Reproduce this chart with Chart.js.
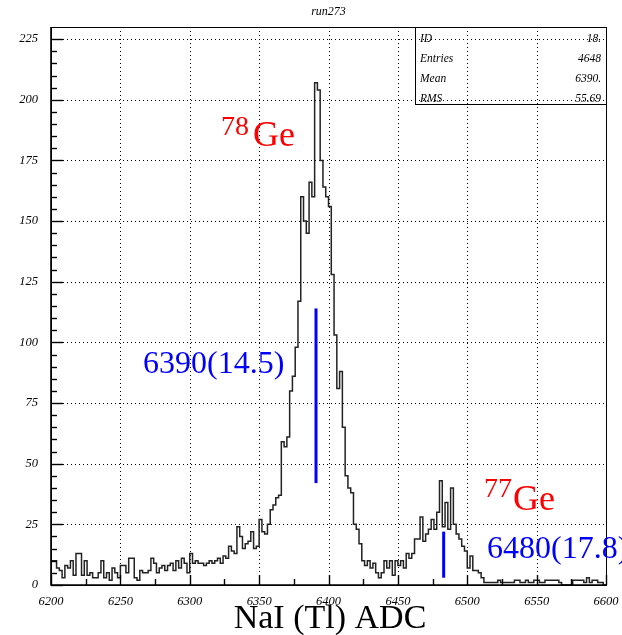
<!DOCTYPE html>
<html><head><meta charset="utf-8">
<script src="https://cdn.jsdelivr.net/npm/chart.js@4.4.0/dist/chart.umd.min.js"></script>
<style>html,body{margin:0;padding:0;background:#fff;overflow:hidden}#wrap{width:622px;height:635px;position:relative}</style>
</head><body><div id="wrap"><canvas id="c" width="622" height="635"></canvas></div>
<script>
// ---- data ----
const binStart = 6200;
const binWidth = 2;
const counts = [
  // 6200-6248
  10,10,7,6,3,8,7,10,4,13,13,4,10,4,5,3,3,5,10,3,5,2,7,5,3,
  // 6250-6298
  8,8,5,11,11,3,2,6,5,5,6,11,9,5,7,8,6,8,9,6,10,7,11,9,5,
  // 6300-6348
  13,9,10,9,9,8,9,10,9,10,11,9,12,11,16,14,13,24,20,15,17,18,22,15,16,
  // 6350-6398
  27,22,21,25,31,33,36,37,59,57,61,80,86,98,117,160,150,145,166,160,207,204,175,164,160,
  // 6400-6448
  156,128,103,81,88,65,45,40,38,25,23,17,10,8,10,7,9,5,3,5,10,7,10,4,10,
  // 6450-6498
  8,10,7,13,11,13,19,19,28,18,21,23,27,23,30,43,24,34,23,40,25,21,19,16,14,
  // 6500-6548
  7,12,6,6,5,3,1,1,1,1,1,2,1,1,1,1,1,2,2,1,1,2,1,1,2,
  // 6550-6598
  2,1,1,2,2,2,2,2,1,0,0,0,0,2,2,2,2,1,3,1,2,2,1,1,0
];
const xTicks = [6200,6250,6300,6350,6400,6450,6500,6550,6600];
const yTicks = [0,25,50,75,100,125,150,175,200,225];
const xRange = [6200, 6600];
const yRange = [0, 230];
const titleText = 'run273';
const xAxisTitle = 'NaI (Tl) ADC';
const statsLabels = ['ID','Entries','Mean','RMS'];
const statsValues = ['18.','4648','6390.','55.69'];
const peakIsotopeMass = ['78','77'];
const peakIsotopeElem = ['Ge','Ge'];
const peakFitText = ['6390(14.5)','6480(17.8)'];
const markerX = [6391, 6483];
const markerLow = [42, 3];
const markerHigh = [114, 22];

// ---- build ----
const histPoints = counts.map((c,i)=>({x: binStart + i*binWidth, y: c}));
histPoints.push({x: binStart + counts.length*binWidth, y: counts[counts.length-1]});

const serif = '"Liberation Serif","Times New Roman",serif';

const pawPlugin = {
  id: 'paw',
  beforeDatasetsDraw(chart){
    const {ctx, chartArea:a, scales:{x,y}} = chart;
    ctx.save();
    ctx.strokeStyle = '#000'; ctx.lineWidth = 1; ctx.setLineDash([1,3]);
    xTicks.forEach(v=>{
      if (v===xRange[0]||v===xRange[1]) return;
      const px = Math.round(x.getPixelForValue(v))+0.5;
      ctx.beginPath(); ctx.moveTo(px,a.top); ctx.lineTo(px,a.bottom); ctx.stroke();
    });
    yTicks.forEach(v=>{
      if (v===yRange[0]) return;
      const py = Math.round(y.getPixelForValue(v))+0.5;
      ctx.beginPath(); ctx.moveTo(a.left,py); ctx.lineTo(a.right,py); ctx.stroke();
    });
    ctx.restore();
  },
  afterDatasetsDraw(chart){
    const {ctx, chartArea:a, scales:{x,y}} = chart;
    ctx.save();
    ctx.setLineDash([]);
    ctx.strokeStyle = '#000';
    ctx.lineWidth = 1;
    ctx.strokeRect(Math.round(a.left)+0.5, Math.round(a.top)+0.5, Math.round(a.right-a.left), Math.round(a.bottom-a.top));
    ctx.lineWidth = 1.6;
    ctx.beginPath();
    ctx.moveTo(a.left, a.top); ctx.lineTo(a.left, a.bottom); ctx.lineTo(a.right, a.bottom);
    ctx.stroke();
    ctx.lineWidth = 1.4;
    for (let v = xRange[0]; v <= xRange[1]; v += 25) {
      const major = (v - xRange[0]) % 50 === 0;
      const px = Math.round(x.getPixelForValue(v))+0.5;
      ctx.beginPath(); ctx.moveTo(px, a.bottom); ctx.lineTo(px, a.bottom - (major?10:6)); ctx.stroke();
    }
    for (let v = 0; v <= 225; v += 5) {
      const major = v % 25 === 0;
      const py = Math.round(y.getPixelForValue(v))+0.5;
      ctx.beginPath(); ctx.moveTo(a.left, py); ctx.lineTo(a.left + (major?12:6), py); ctx.stroke();
    }
    ctx.fillStyle = '#000';
    ctx.font = 'italic 12px ' + serif;
    ctx.textAlign = 'center'; ctx.textBaseline = 'alphabetic';
    ctx.fillText(titleText, (a.left+a.right)/2, 15);
    ctx.lineWidth = 1;
    const bx = 415.5, by = Math.round(a.top)+0.5, bw = Math.round(a.right) - 415, bh = 77;
    ctx.strokeRect(bx, by, bw, bh);
    ctx.font = 'italic 11.5px ' + serif;
    statsLabels.forEach((t,i)=>{
      const yy = 42 + i*20;
      ctx.textAlign = 'left'; ctx.fillText(t, 420, yy);
      ctx.textAlign = 'right'; ctx.fillText(statsValues[i], a.right - 5, yy);
    });
    ctx.font = '34px ' + serif;
    ctx.textAlign = 'center';
    ctx.fillText(xAxisTitle, 330, 628);
    ctx.textAlign = 'left';
    ctx.fillStyle = '#ff0000';
    ctx.font = '28px ' + serif; ctx.fillText(peakIsotopeMass[0], 221, 135);
    ctx.font = '36px ' + serif; ctx.fillText(peakIsotopeElem[0], 253, 146);
    ctx.font = '28px ' + serif; ctx.fillText(peakIsotopeMass[1], 484, 497);
    ctx.font = '36px ' + serif; ctx.fillText(peakIsotopeElem[1], 513, 510);
    ctx.fillStyle = '#0000ff';
    ctx.font = '32px ' + serif;
    ctx.fillText(peakFitText[0], 143, 373);
    ctx.fillText(peakFitText[1], 487, 558);
    ctx.restore();
  }
};

new Chart(document.getElementById('c'), {
  type: 'line',
  data: {
    datasets: [
      { data: histPoints, stepped: true, borderColor: '#222', borderWidth: 1.5, pointRadius: 0, fill: false, order: 2 },
      { data: [{x:markerX[0],y:markerLow[0]},{x:markerX[0],y:markerHigh[0]}], borderColor: '#0000ff', borderWidth: 3, pointRadius: 0, fill:false, order: 1 },
      { data: [{x:markerX[1],y:markerLow[1]},{x:markerX[1],y:markerHigh[1]}], borderColor: '#0000ff', borderWidth: 3, pointRadius: 0, fill:false, order: 1 }
    ]
  },
  options: {
    responsive: false, animation: false, devicePixelRatio: 1,
    layout: { padding: { top: 27, right: 16, left: 0, bottom: 0 } },
    plugins: { legend: { display: false }, tooltip: { enabled: false }, title: { display: false } },
    scales: {
      x: {
        type: 'linear', min: xRange[0], max: xRange[1],
        grid: { display: false, drawTicks: false }, border: { display: false },
        afterFit: s => { s.height = 50; s.paddingLeft = 0; s.paddingRight = 0; },
        afterBuildTicks: s => { s.ticks = xTicks.map(v=>({value:v})); },
        ticks: { autoSkip: false, maxRotation: 0, padding: 9, color: '#000', callback: v => String(v), font: { family: serif, size: 12.5, style: 'italic' } }
      },
      y: {
        type: 'linear', min: yRange[0], max: yRange[1],
        grid: { display: false, drawTicks: false }, border: { display: false },
        afterFit: s => { s.width = 51; s.paddingTop = 0; s.paddingBottom = 0; },
        afterBuildTicks: s => { s.ticks = yTicks.map(v=>({value:v})); },
        ticks: { autoSkip: false, padding: 13, color: '#000', callback: v => String(v), font: { family: serif, size: 12.5, style: 'italic' } }
      }
    }
  },
  plugins: [pawPlugin]
});
</script></body></html>
